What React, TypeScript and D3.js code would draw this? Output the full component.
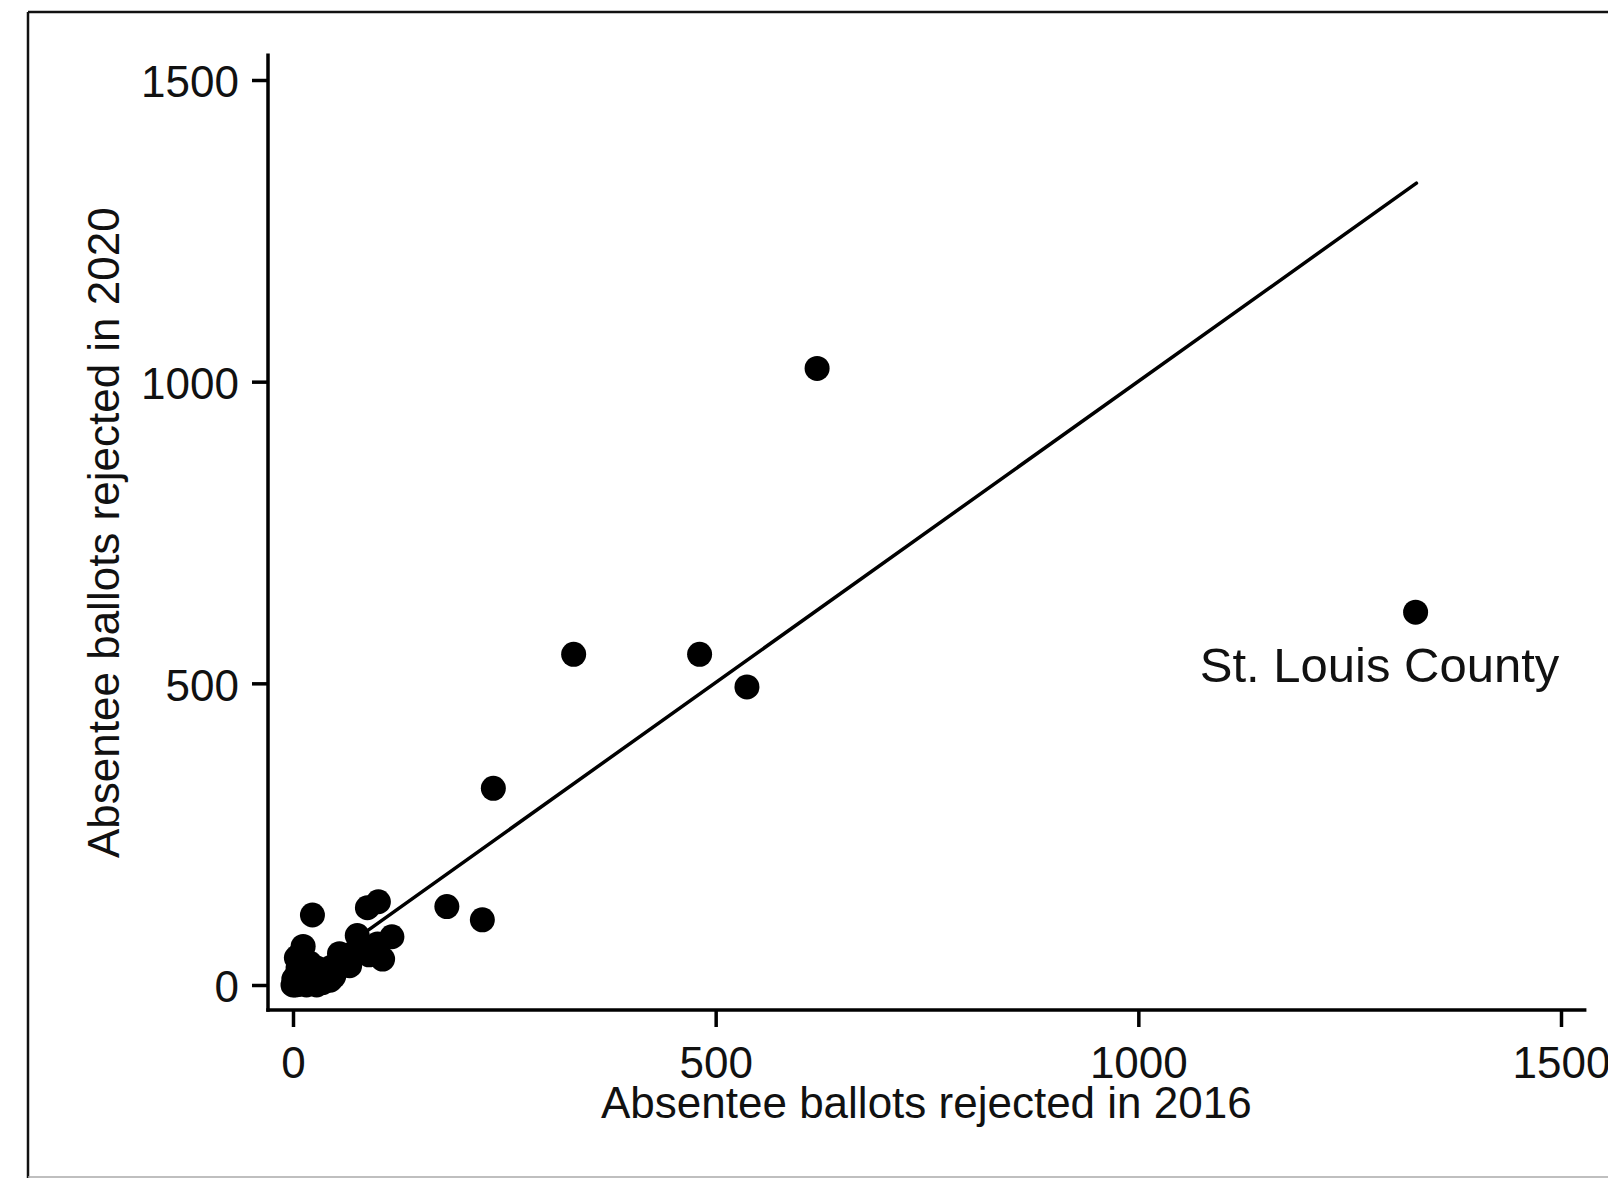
import { useEffect, useRef } from 'react'
import * as d3 from 'd3'

// absentee ballots rejected per county, 2016 vs 2020
const rejected2016 = [
  620, 1328, 332, 481, 537, 237, 182, 224, 23, 88, 101, 117, 106, 76, 12,
  55, 67, 90, 48,
  0, 2, 4, 6, 8, 10, 12, 14, 16, 18, 20, 22, 24, 26, 28, 30, 32, 35, 38, 42,
  46, 50, 55, 62, 70, 80, 92, 100, 6, 15, 3, 9, 1, 5, 11,
  8, 18, 28, 36, 44, 4, 10, 20, 60,
]
const rejected2020 = [
  1022, 618, 548, 548, 494, 326, 130, 108, 116, 128, 138, 80, 43, 82, 64,
  52, 32, 50, 14,
  0, 3, 8, 1, 14, 4, 20, 7, 0, 12, 22, 3, 16, 8, 0, 18, 10, 4, 25, 15,
  30, 22, 40, 45, 52, 60, 55, 68, 28, 30, 0, 2, 10, 18, 36,
  22, 26, 28, 20, 8, 45, 54, 36, 34,
]
const countyLabels = ['', 'St. Louis County']

// fitted line endpoints
const fitX = [89, 1329]
const fitY = [91, 1329]

const tickValues = [0, 500, 1000, 1500]
const xTitle = 'Absentee ballots rejected in 2016'
const yTitle = 'Absentee ballots rejected in 2020'

function App() {
  const svgRef = useRef<SVGSVGElement>(null)

  useEffect(() => {
    const width = 1608
    const height = 1178
    const font = '"Liberation Sans", Arial, sans-serif'

    const svg = d3.select(svgRef.current)
      .attr('width', width)
      .attr('height', height)
    svg.selectAll('*').remove()

    svg.append('rect').attr('width', width).attr('height', height).attr('fill', '#fff')

    // outer frame
    svg.append('line').attr('x1', 28).attr('x2', width).attr('y1', 12).attr('y2', 12)
      .attr('stroke', '#111').attr('stroke-width', 2.5)
    svg.append('line').attr('x1', 28).attr('x2', 28).attr('y1', 12).attr('y2', height)
      .attr('stroke', '#111').attr('stroke-width', 2.5)
    svg.append('line').attr('x1', 28).attr('x2', width).attr('y1', 1177).attr('y2', 1177)
      .attr('stroke', '#aaa').attr('stroke-width', 1.5)

    const x = d3.scaleLinear().domain([0, 1500]).range([293, 1561])
    const y = d3.scaleLinear().domain([0, 1500]).range([985, 80])

    const axisY = 1010
    const axisX = 268

    // axis lines
    svg.append('line')
      .attr('x1', axisX).attr('x2', x(1528))
      .attr('y1', axisY).attr('y2', axisY)
      .attr('stroke', '#000').attr('stroke-width', 3.5).attr('stroke-linecap', 'square')
    svg.append('line')
      .attr('x1', axisX).attr('x2', axisX)
      .attr('y1', axisY).attr('y2', y(1541))
      .attr('stroke', '#000').attr('stroke-width', 3.5).attr('stroke-linecap', 'square')

    const gx = svg.append('g')
      .attr('transform', `translate(0,${axisY})`)
      .call(d3.axisBottom(x).tickValues(tickValues).tickSize(17).tickPadding(20).tickFormat(d3.format('d')))
    const gy = svg.append('g')
      .attr('transform', `translate(${axisX},0)`)
      .call(d3.axisLeft(y).tickValues(tickValues).tickSize(16).tickPadding(13).tickFormat(d3.format('d')))

    for (const g of [gx, gy]) {
      g.select('.domain').remove()
      g.selectAll('line').attr('stroke', '#000').attr('stroke-width', 3.5)
      g.selectAll('text')
        .attr('fill', '#111')
        .style('font-family', font)
        .style('font-size', '44px')
    }
    gy.selectAll('text').attr('dy', '0.38em')

    // titles
    svg.append('text')
      .attr('x', (axisX + x(1528)) / 2)
      .attr('y', 1118)
      .attr('text-anchor', 'middle')
      .style('font-family', font)
      .style('font-size', '44px')
      .attr('fill', '#111')
      .text(xTitle)

    svg.append('text')
      .attr('transform', `translate(119,${(axisY + y(1541)) / 2}) rotate(-90)`)
      .attr('text-anchor', 'middle')
      .style('font-family', font)
      .style('font-size', '44px')
      .attr('fill', '#111')
      .text(yTitle)

    // fit line
    const fit = fitX.map((v, i) => [v, fitY[i]] as [number, number])
    svg.append('path')
      .datum(fit)
      .attr('d', d3.line<[number, number]>().x(d => x(d[0])).y(d => y(d[1])))
      .attr('fill', 'none')
      .attr('stroke', '#000')
      .attr('stroke-width', 3.5)
      .attr('stroke-linecap', 'round')

    // points
    svg.append('g')
      .selectAll('circle')
      .data(rejected2016)
      .join('circle')
      .attr('cx', d => x(d))
      .attr('cy', (_, i) => y(rejected2020[i]))
      .attr('r', 12.5)
      .attr('fill', '#000')

    // marker labels, placed below and a bit left of the point
    svg.append('g')
      .selectAll('text')
      .data(countyLabels.map((t, i) => ({ t, i })).filter(d => d.t))
      .join('text')
      .attr('x', d => x(rejected2016[d.i]) - 36)
      .attr('y', d => y(rejected2020[d.i]) + 70)
      .attr('text-anchor', 'middle')
      .style('font-family', font)
      .style('font-size', '49px')
      .attr('fill', '#111')
      .text(d => d.t)
  }, [])

  return (
    <div style={{ position: 'absolute', left: 0, top: 0 }}>
      <svg ref={svgRef} style={{ display: 'block' }}></svg>
    </div>
  )
}

export default App
